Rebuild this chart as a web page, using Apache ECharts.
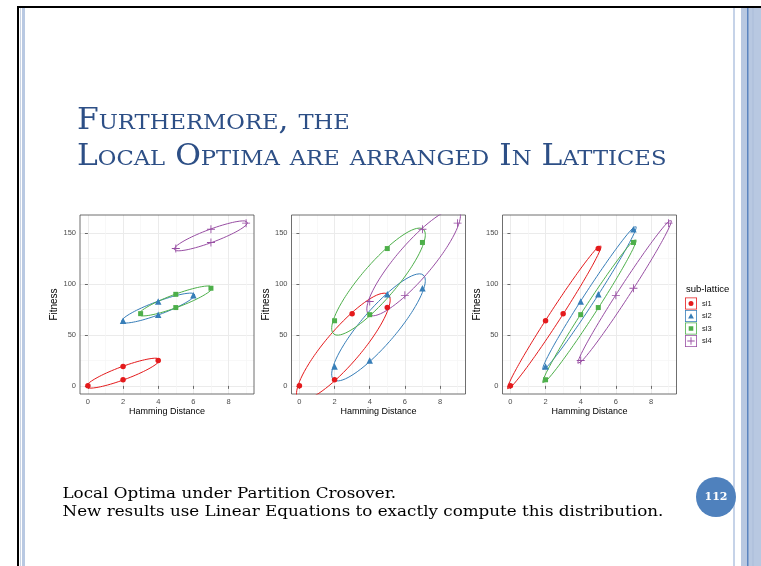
<!DOCTYPE html>
<html>
<head>
<meta charset="utf-8">
<script src="https://cdn.jsdelivr.net/npm/echarts@6/dist/echarts.min.js"></script>
<style>
html, body { margin: 0; padding: 0; background: #ffffff; }
#chart { width: 761px; height: 566px; }
</style>
</head>
<body>
<div id="chart"></div>
<script>
// Sub-lattice names and their Set1 colours
const latticeNames = ['sl1', 'sl2', 'sl3', 'sl4'];
const latticeColors = ['#E41A1C', '#377EB8', '#4DAF4A', '#984EA3'];

// [Hamming distance, fitness] of the local optima, grouped by sub-lattice, one array per panel
const panelA = [
  [[0, 0], [2, 6], [2, 19], [4, 25]],
  [[2, 64], [4, 70], [4, 83], [6, 89]],
  [[3, 71], [5, 77], [5, 90], [7, 96]],
  [[5, 135], [7, 141], [7, 154], [9, 160]]
];
const panelB = [
  [[0, 0], [2, 6], [3, 71], [5, 77]],
  [[2, 19], [4, 25], [5, 90], [7, 96]],
  [[2, 64], [4, 70], [5, 135], [7, 141]],
  [[4, 83], [6, 89], [7, 154], [9, 160]]
];
const panelC = [
  [[0, 0], [2, 64], [3, 71], [5, 135]],
  [[2, 19], [4, 83], [5, 90], [7, 154]],
  [[2, 6], [4, 70], [5, 77], [7, 141]],
  [[4, 25], [6, 89], [7, 96], [9, 160]]
];
const panels = [panelA, panelB, panelC];

// Axis ticks and ranges
const xTicks = [0, 2, 4, 6, 8];
const yTicks = [0, 50, 100, 150];
const xRange = [-0.45, 9.45];
const yRange = [-8, 168];

// Marker shapes per sub-lattice
const plusPath = 'path://M4 0H5V4H9V5H5V9H4V5H0V4H4Z';
const latticeSymbols = ['circle', 'triangle', 'rect', plusPath];
const latticeSymbolSizes = [5.5, 6.5, 5, 8];

// Legend keys: a thin frame with the marker inside
const frame = 'M0 0H12V12H0Z M0.8 0.8V11.2H11.2V0.8Z ';
const legendIcons = [
  'path://' + frame + 'M3.5 6A2.5 2.5 0 1 0 8.5 6A2.5 2.5 0 1 0 3.5 6Z',
  'path://' + frame + 'M6 3.2L8.9 8.4H3.1Z',
  'path://' + frame + 'M3.7 3.7H8.3V8.3H3.7Z',
  'path://' + frame + 'M5.55 2.3H6.45V5.55H9.7V6.45H6.45V9.7H5.55V6.45H2.3V5.55H5.55Z'
];

// Concentration ellipse of a point group (sample covariance, Cholesky-scaled unit circle)
const ellipseRadius = 1.28;
function ellipse(points, r, n) {
  const k = points.length;
  let mx = 0, my = 0;
  points.forEach(p => { mx += p[0]; my += p[1]; });
  mx /= k; my /= k;
  let sxx = 0, syy = 0, sxy = 0;
  points.forEach(p => {
    const dx = p[0] - mx, dy = p[1] - my;
    sxx += dx * dx; syy += dy * dy; sxy += dx * dy;
  });
  sxx /= (k - 1); syy /= (k - 1); sxy /= (k - 1);
  const a = Math.sqrt(sxx), b = sxy / a, c = Math.sqrt(Math.max(syy - b * b, 0));
  const out = [];
  for (let i = 0; i <= n; i++) {
    const t = 2 * Math.PI * i / n, u = Math.cos(t), v = Math.sin(t);
    out.push([mx + r * u * a, my + r * (u * b + v * c)]);
  }
  return out;
}

const panelLefts = [80, 291.5, 502.5];
const panelTop = 215, panelWidth = 174, panelHeight = 179;

const grids = [], xAxes = [], yAxes = [], series = [];
const axisFont = 'Liberation Sans';

panels.forEach((groups, g) => {
  grids.push({
    left: panelLefts[g], top: panelTop, width: panelWidth, height: panelHeight,
    show: true, borderColor: '#4a4a4a', borderWidth: 0.8, backgroundColor: 'transparent', z: 1
  });
  xAxes.push({
    gridIndex: g, type: 'value', min: xRange[0], max: xRange[1], splitNumber: 5,
    axisLine: { show: false },
    axisTick: { show: true, length: 3, customValues: xTicks, lineStyle: { color: '#4a4a4a', width: 0.8 } },
    axisLabel: {
      fontSize: 7.5, color: '#4d4d4d', margin: 4, fontFamily: axisFont, customValues: xTicks
    },
    splitLine: { show: true, lineStyle: { color: '#ebebeb', width: 1 } },
    minorTick: { show: false, splitNumber: 2 },
    minorSplitLine: { show: true, lineStyle: { color: '#f5f5f5', width: 0.7 } },
    name: 'Hamming Distance', nameLocation: 'middle', nameGap: 12,
    nameTextStyle: { fontSize: 9, color: '#000', fontFamily: axisFont }
  });
  yAxes.push({
    gridIndex: g, type: 'value', min: yRange[0], max: yRange[1], splitNumber: 4,
    axisLine: { show: false },
    axisTick: { show: true, length: 3, customValues: yTicks, lineStyle: { color: '#4a4a4a', width: 0.8 } },
    axisLabel: {
      fontSize: 7.5, color: '#4d4d4d', margin: 4, fontFamily: axisFont, customValues: yTicks
    },
    splitLine: { show: true, lineStyle: { color: '#ebebeb', width: 1 } },
    minorTick: { show: false, splitNumber: 2 },
    minorSplitLine: { show: true, lineStyle: { color: '#f5f5f5', width: 0.7 } },
    name: 'Fitness', nameLocation: 'middle', nameRotate: 90, nameGap: 18,
    nameTextStyle: { fontSize: 10, color: '#000', fontFamily: axisFont }
  });
  groups.forEach((pts, s) => {
    series.push({
      name: latticeNames[s] + '-ellipse', type: 'line', xAxisIndex: g, yAxisIndex: g,
      data: ellipse(pts, ellipseRadius, 160), symbol: 'none', showSymbol: false,
      clip: true, silent: true, z: 2,
      lineStyle: { color: latticeColors[s], width: 1 }
    });
  });
  groups.forEach((pts, s) => {
    series.push({
      name: latticeNames[s], type: 'scatter', xAxisIndex: g, yAxisIndex: g,
      data: pts, symbol: latticeSymbols[s], symbolSize: latticeSymbolSizes[s],
      itemStyle: { color: latticeColors[s], opacity: 1 }, z: 3, silent: true
    });
  });
});

// Title in small capitals: lowercase letters become smaller capitals
const titleColor = '#2d4f86';
function smallCaps(str) {
  let out = '', cur = null, buf = '';
  for (const ch of str) {
    const kind = (ch >= 'a' && ch <= 'z') ? 's' : 'c';
    if (kind !== cur && buf) { out += '{' + cur + '|' + buf + '}'; buf = ''; }
    cur = kind;
    buf += kind === 's' ? ch.toUpperCase() : ch;
  }
  if (buf) out += '{' + cur + '|' + buf + '}';
  return out;
}
const titleLines = ['Furthermore, the', 'Local Optima are arranged In Lattices'];
const bodyLines = [
  'Local Optima under Partition Crosover.',
  'New results use Linear Equations to exactly compute this distribution.'
];

// The slide's serif face runs wider than DejaVu Serif
const serifStretch = 1.08;

const graphics = [
  // slide frame
  { type: 'rect', shape: { x: 17, y: 6, width: 744, height: 2 }, style: { fill: '#000' }, silent: true },
  { type: 'rect', shape: { x: 17, y: 6, width: 2, height: 560 }, style: { fill: '#000' }, silent: true },
  { type: 'rect', shape: { x: 20, y: 8, width: 1, height: 558 }, style: { fill: '#c9d3e3' }, silent: true },
  { type: 'rect', shape: { x: 22, y: 8, width: 3, height: 558 }, style: { fill: '#b9c9e2' }, silent: true },
  { type: 'rect', shape: { x: 733, y: 8, width: 2, height: 558 }, style: { fill: '#c6d3e8' }, silent: true },
  { type: 'rect', shape: { x: 741, y: 8, width: 20, height: 558 }, style: { fill: '#b8c8e1' }, silent: true },
  { type: 'rect', shape: { x: 747, y: 8, width: 1.5, height: 558 }, style: { fill: '#5b84bf' }, silent: true },
  { type: 'rect', shape: { x: 752.5, y: 8, width: 1, height: 558 }, style: { fill: '#a9bcd9' }, silent: true },
  // title
  {
    type: 'text', x: 77, y: 100, scaleX: serifStretch, silent: true,
    style: {
      text: titleLines.map(smallCaps).join('\n'),
      rich: {
        c: { fontSize: 29, fontFamily: 'DejaVu Serif', fill: titleColor, lineHeight: 36, verticalAlign: 'bottom' },
        s: { fontSize: 21, fontFamily: 'DejaVu Serif', fill: titleColor, lineHeight: 36, verticalAlign: 'bottom', padding: [0, 0, 2, 0] }
      }
    }
  },
  // legend title
  {
    type: 'text', x: 686, y: 289, silent: true,
    style: { text: 'sub-lattice', fontSize: 9.5, fontFamily: axisFont, fill: '#000', verticalAlign: 'middle' }
  },
  // caption
  {
    type: 'text', x: 62.5, y: 485, scaleX: serifStretch, silent: true,
    style: { text: bodyLines.join('\n'), fontSize: 15.5, fontFamily: 'DejaVu Serif', fill: '#000', lineHeight: 18, verticalAlign: 'top' }
  },
  // slide number badge
  { type: 'circle', shape: { cx: 716, cy: 497, r: 20 }, style: { fill: '#4f81bd' }, silent: true },
  {
    type: 'text', x: 716, y: 497, silent: true,
    style: { text: '112', fontSize: 11, fontWeight: 'bold', fontFamily: 'DejaVu Serif', fill: '#fff', align: 'center', verticalAlign: 'middle' }
  }
];

const chart = echarts.init(document.getElementById('chart'), null, { renderer: 'canvas' });
chart.setOption({
  backgroundColor: '#ffffff',
  animation: false,
  grid: grids,
  xAxis: xAxes,
  yAxis: yAxes,
  series: series,
  legend: {
    orient: 'vertical', left: 685, top: 297.5, padding: 0,
    itemWidth: 12, itemHeight: 12, itemGap: 0.5, selectedMode: false,
    data: latticeNames.map((n, i) => ({ name: n, icon: legendIcons[i] })),
    textStyle: { fontSize: 7.5, color: '#1a1a1a', fontFamily: axisFont }
  },
  graphic: graphics
});
</script>
</body>
</html>
